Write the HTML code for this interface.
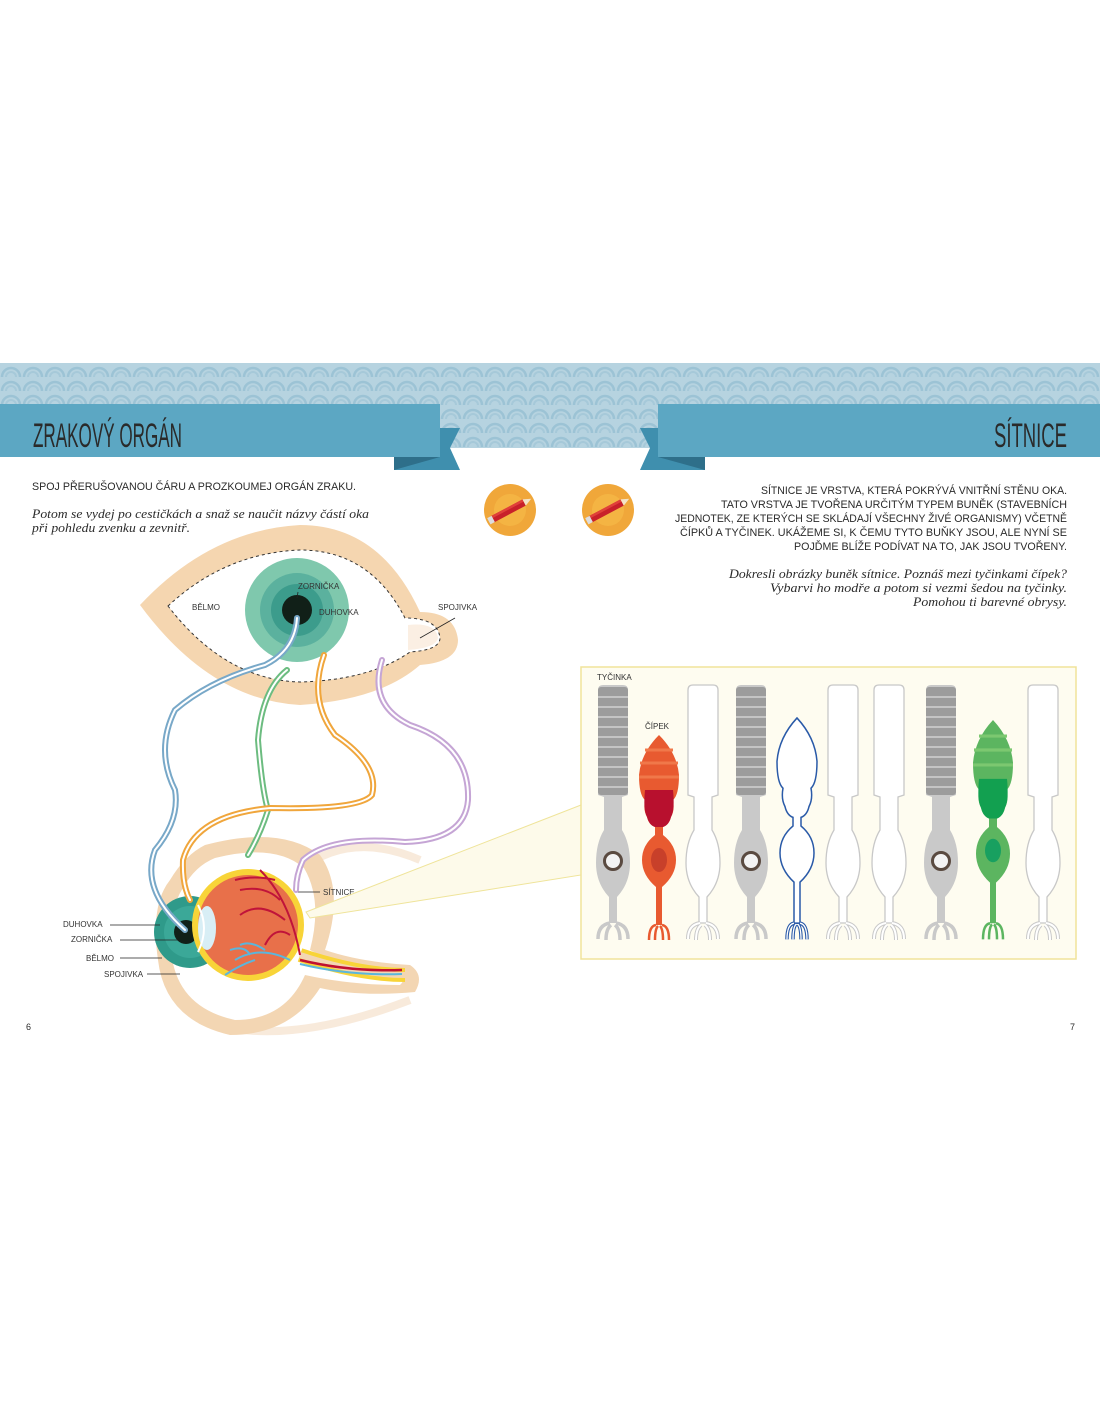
<!DOCTYPE html>
<html><head><meta charset="utf-8"><style>
html,body{margin:0;padding:0;background:#fff;}
svg{display:block;}
text{font-family:"Liberation Sans",sans-serif;fill:#2a2a2a;}
.it{font-family:"Liberation Serif",serif;font-style:italic;}
.lb{font-size:8px;fill:#333;}
</style></head><body>
<svg width="1100" height="1422" viewBox="0 0 1100 1422" xmlns="http://www.w3.org/2000/svg">
<defs>
<pattern id="arc" x="0" y="363" width="22" height="14" patternUnits="userSpaceOnUse">
<rect width="22" height="14" fill="#b6d3e0"/>
<path d="M2,14 A9,9 0 0 1 20,14" fill="none" stroke="#9cc3d5" stroke-width="2.5"/>
<path d="M6,14 A5,5 0 0 1 16,14" fill="none" stroke="#a6c9d9" stroke-width="2"/>
</pattern>
<path id="rod" d="M-15,5 Q-15,0 -10,0 L10,0 Q15,0 15,5 L15,110 L9,112 L9,145 Q17,158 17,178 Q17,198 4,212 L4,238 L-4,238 L-4,212 Q-17,198 -17,178 Q-17,158 -9,145 L-9,112 L-15,110 Z"/>
<path id="feet" d="M-3,238 Q-15,240 -15,254 M-2,240 Q-7,244 -7,255 M2,240 Q7,244 7,255 M3,238 Q15,240 15,254" fill="none"/>
<path id="cone" d="M0,0 Q18,18 20,40 Q20,60 14,65 Q16,75 12,82 Q10,90 4,92 L4,100 Q17,110 17,125 Q17,140 3,152 L3,190 L-3,190 L-3,152 Q-17,140 -17,125 Q-17,110 -4,100 L-4,92 Q-10,90 -12,82 Q-16,75 -14,65 Q-20,60 -20,40 Q-18,18 0,0 Z"/>
<path id="cfeet" d="M-3,190 Q-10,191 -10,205 M-1,191 Q-4,194 -4,205 M1,191 Q4,194 4,205 M3,190 Q10,191 10,205" fill="none"/>
</defs>

<rect x="0" y="363" width="1100" height="85" fill="url(#arc)"/>
<polygon points="394,428 460,428 450,448 460,470 394,470" fill="#3f8fae"/>
<polygon points="394,457 440,457 394,470" fill="#2e6f8a"/>
<rect x="0" y="404" width="440" height="53" fill="#5ca7c3"/>
<text x="33" y="447" font-family="'Liberation Sans Narrow','Liberation Sans',sans-serif" font-size="34" textLength="149" lengthAdjust="spacingAndGlyphs" fill="#1d1d1d">ZRAKOVÝ ORGÁN</text>
<polygon points="705,428 640,428 650,448 640,470 705,470" fill="#3f8fae"/>
<polygon points="705,457 658,457 705,470" fill="#2e6f8a"/>
<rect x="658" y="404" width="442" height="53" fill="#5ca7c3"/>
<text x="1067" y="447" text-anchor="end" font-family="'Liberation Sans Narrow','Liberation Sans',sans-serif" font-size="34" textLength="73" lengthAdjust="spacingAndGlyphs" fill="#1d1d1d">SÍTNICE</text>

<text x="32" y="490" font-size="11" textLength="324" lengthAdjust="spacingAndGlyphs">SPOJ PŘERUŠOVANOU ČÁRU A PROZKOUMEJ ORGÁN ZRAKU.</text>
<text class="it" x="32" y="518" font-size="12.5" textLength="337" lengthAdjust="spacingAndGlyphs">Potom se vydej po cestičkách a snaž se naučit názvy částí oka</text>
<text class="it" x="32" y="532" font-size="12.5" textLength="158" lengthAdjust="spacingAndGlyphs">při pohledu zvenku a zevnitř.</text>

<g font-size="11" text-anchor="end">
<text x="1067" y="494" textLength="306" lengthAdjust="spacingAndGlyphs">SÍTNICE JE VRSTVA, KTERÁ POKRÝVÁ VNITŘNÍ STĚNU OKA.</text>
<text x="1067" y="508" textLength="346" lengthAdjust="spacingAndGlyphs">TATO VRSTVA JE TVOŘENA URČITÝM TYPEM BUNĚK (STAVEBNÍCH</text>
<text x="1067" y="522" textLength="392" lengthAdjust="spacingAndGlyphs">JEDNOTEK, ZE KTERÝCH SE SKLÁDAJÍ VŠECHNY ŽIVÉ ORGANISMY) VČETNĚ</text>
<text x="1067" y="536" textLength="387" lengthAdjust="spacingAndGlyphs">ČÍPKŮ A TYČINEK. UKÁŽEME SI, K ČEMU TYTO BUŇKY JSOU, ALE NYNÍ SE</text>
<text x="1067" y="550" textLength="273" lengthAdjust="spacingAndGlyphs">POJĎME BLÍŽE PODÍVAT NA TO, JAK JSOU TVOŘENY.</text>
</g>
<g font-size="12.5" text-anchor="end">
<text class="it" x="1067" y="578" textLength="338" lengthAdjust="spacingAndGlyphs">Dokresli obrázky buněk sítnice. Poznáš mezi tyčinkami čípek?</text>
<text class="it" x="1067" y="592" textLength="297" lengthAdjust="spacingAndGlyphs">Vybarvi ho modře a potom si vezmi šedou na tyčinky.</text>
<text class="it" x="1067" y="606" textLength="154" lengthAdjust="spacingAndGlyphs">Pomohou ti barevné obrysy.</text>
</g>

<g>
<circle cx="510" cy="510" r="26" fill="#f0a73a"/><circle cx="510" cy="510" r="16" fill="#f6bd4a" opacity=".6"/>
<g transform="translate(510,510) rotate(-28)"><rect x="-20" y="-3.5" width="36" height="7" fill="#c8202a"/><rect x="-20" y="-3.5" width="36" height="2.5" fill="#e0403a"/><polygon points="16,-3.5 24,0 16,3.5" fill="#f3e3c8"/><rect x="-24" y="-3.5" width="5" height="7" fill="#ddd"/></g>
<circle cx="608" cy="510" r="26" fill="#f0a73a"/><circle cx="608" cy="510" r="16" fill="#f6bd4a" opacity=".6"/>
<g transform="translate(608,510) rotate(-28)"><rect x="-20" y="-3.5" width="36" height="7" fill="#c8202a"/><rect x="-20" y="-3.5" width="36" height="2.5" fill="#e0403a"/><polygon points="16,-3.5 24,0 16,3.5" fill="#f3e3c8"/><rect x="-24" y="-3.5" width="5" height="7" fill="#ddd"/></g>
</g>

<path d="M140,605 Q210,530 300,525 Q380,525 420,612 Q455,612 458,640 Q458,662 420,665 Q380,700 300,705 Q210,700 140,605 Z" fill="#f5d6b0"/>
<path d="M168,606 Q225,553 300,550 Q370,550 405,618 Q438,618 440,638 Q440,650 410,652 Q370,680 300,682 Q225,680 168,606 Z" fill="#fff" stroke="#333" stroke-width="1" stroke-dasharray="3,3"/>
<path d="M408,625 Q436,622 438,638 Q436,648 408,650 Z" fill="#fbefe3"/>
<circle cx="297" cy="610" r="52" fill="#7fc8ad"/>
<circle cx="297" cy="610" r="37" fill="#5bb19e"/>
<circle cx="297" cy="610" r="26" fill="#3c9c8c"/>
<circle cx="297" cy="610" r="15" fill="#112018"/>
<text class="lb" x="192" y="610">BĚLMO</text>
<text class="lb" x="298" y="589">ZORNIČKA</text>
<line x1="298" y1="592" x2="297" y2="598" stroke="#222" stroke-width=".8"/>
<text class="lb" x="319" y="615">DUHOVKA</text>
<text class="lb" x="438" y="610">SPOJIVKA</text>
<line x1="455" y1="618" x2="420" y2="638" stroke="#222" stroke-width=".8"/>

<!-- lower eye -->
<path d="M300,870 Q350,830 420,860" fill="none" stroke="#f6e5d2" stroke-width="8" opacity=".8"/>
<path d="M200,1020 Q280,1050 410,1000" fill="none" stroke="#f6e5d2" stroke-width="8" opacity=".8"/>
<path d="M205,845 Q280,825 320,855 Q345,890 325,950 Q360,962 410,965 Q425,975 415,992 Q360,997 320,988 Q290,1035 230,1035 Q165,1020 158,960 Q150,905 170,880 Q185,855 205,845 Z" fill="#f3d6b3"/>
<path d="M215,858 Q275,843 304,868 Q323,900 310,950 Q350,972 400,972 Q406,980 400,985 Q350,985 305,975 Q285,1020 235,1020 Q180,1008 172,958 Q168,910 183,888 Q195,866 215,858 Z" fill="#fff"/>
<circle cx="190" cy="932" r="36" fill="#2f9a8a"/>
<circle cx="190" cy="932" r="26" fill="#3ba898"/>
<circle cx="186" cy="932" r="12" fill="#112018"/>
<path d="M300,955 Q360,975 405,975" fill="none" stroke="#f8d438" stroke-width="14"/>
<path d="M300,955 Q360,975 405,975" fill="none" stroke="#f3d6b3" stroke-width="6"/>
<circle cx="248" cy="925" r="56" fill="#f8d438"/>
<circle cx="248" cy="925" r="50" fill="#e8704a"/>
<path d="M300,960 Q350,972 402,970" fill="none" stroke="#c01030" stroke-width="2.5"/>
<path d="M300,964 Q350,976 402,974" fill="none" stroke="#5bb6dc" stroke-width="2"/>
<ellipse cx="207" cy="928" rx="9" ry="22" fill="#d8eef5"/>
<path d="M198,905 Q210,928 198,952" fill="none" stroke="#fff" stroke-width="2"/>
<g fill="none" stroke="#c0143a" stroke-width="2">
<path d="M300,955 Q290,900 260,870 M280,900 Q265,885 240,890 M285,920 Q260,900 240,915 M275,880 Q255,875 235,880 M290,935 Q275,925 265,945"/>
</g>
<g fill="none" stroke="#5bb6dc" stroke-width="2">
<path d="M290,960 Q260,945 235,960 M265,950 Q250,940 240,945 M255,960 Q240,965 225,975 M250,955 Q245,945 230,950"/>
</g>
<text class="lb" x="323" y="895">SÍTNICE</text><line x1="296" y1="892" x2="320" y2="892" stroke="#222" stroke-width=".8"/>
<text class="lb" x="63" y="927">DUHOVKA</text><line x1="110" y1="925" x2="160" y2="925" stroke="#222" stroke-width=".8"/>
<text class="lb" x="71" y="942">ZORNIČKA</text><line x1="120" y1="940" x2="178" y2="940" stroke="#222" stroke-width=".8"/>
<text class="lb" x="86" y="961">BĚLMO</text><line x1="120" y1="958" x2="162" y2="958" stroke="#222" stroke-width=".8"/>
<text class="lb" x="104" y="977">SPOJIVKA</text><line x1="147" y1="974" x2="180" y2="974" stroke="#222" stroke-width=".8"/>

<g fill="none" stroke-linecap="round">
<path d="M297,618 Q295,650 265,665 Q210,680 175,710 Q155,750 175,790 Q180,820 155,850 Q140,890 185,930" stroke="#78a8c8" stroke-width="6"/>
<path d="M297,618 Q295,650 265,665 Q210,680 175,710 Q155,750 175,790 Q180,820 155,850 Q140,890 185,930" stroke="#fff" stroke-width="2"/>
<path d="M287,670 Q262,690 258,740 Q262,790 268,810 Q260,835 248,855" stroke="#6cbc80" stroke-width="6"/>
<path d="M287,670 Q262,690 258,740 Q262,790 268,810 Q260,835 248,855" stroke="#fff" stroke-width="2"/>
<path d="M324,655 Q308,700 335,735 Q380,765 372,795 Q360,810 270,808 Q195,815 183,860 Q182,885 190,900" stroke="#f0a63c" stroke-width="6"/>
<path d="M324,655 Q308,700 335,735 Q380,765 372,795 Q360,810 270,808 Q195,815 183,860 Q182,885 190,900" stroke="#fff" stroke-width="2"/>
<path d="M382,660 Q368,705 410,725 Q470,745 468,800 Q465,840 405,842 Q330,835 303,860 Q296,875 296,890" stroke="#c5a5d5" stroke-width="6"/>
<path d="M382,660 Q368,705 410,725 Q470,745 468,800 Q465,840 405,842 Q330,835 303,860 Q296,875 296,890" stroke="#fff" stroke-width="2"/>
</g>

<polygon points="306,912 581,805 581,875 310,918" fill="#fdfaea" stroke="#efe49a" stroke-width="1"/>

<rect x="581" y="667" width="495" height="292" fill="#fefcf0" stroke="#f0e39a" stroke-width="1.5"/>
<text class="lb" x="597" y="680">TYČINKA</text>
<text class="lb" x="645" y="729">ČÍPEK</text>

<g id="grod">
<use href="#rod" x="613" y="685" fill="#c9c9c9"/>
<use href="#feet" x="613" y="685" stroke="#c9c9c9" stroke-width="3.5"/>
<rect x="598" y="687" width="30" height="108" rx="3" fill="#9c9c9c"/>
<g stroke="#c4c4c4" stroke-width="2">
<line x1="598" y1="697" x2="628" y2="697"/><line x1="598" y1="707" x2="628" y2="707"/><line x1="598" y1="717" x2="628" y2="717"/><line x1="598" y1="727" x2="628" y2="727"/><line x1="598" y1="737" x2="628" y2="737"/><line x1="598" y1="747" x2="628" y2="747"/><line x1="598" y1="757" x2="628" y2="757"/><line x1="598" y1="767" x2="628" y2="767"/><line x1="598" y1="777" x2="628" y2="777"/><line x1="598" y1="787" x2="628" y2="787"/>
</g>
<circle cx="613" cy="861" r="8.5" fill="#f3f3f3" stroke="#5a4a40" stroke-width="3"/>
</g>
<use href="#grod" x="138"/>
<use href="#grod" x="328"/>

<g fill="#fff" stroke="#c8c8c8" stroke-width="1.3">
<use href="#rod" x="703" y="685"/><use href="#rod" x="843" y="685"/><use href="#rod" x="889" y="685"/><use href="#rod" x="1043" y="685"/>
</g>
<g stroke="#c8c8c8" stroke-width="4"><use href="#feet" x="703" y="685"/><use href="#feet" x="843" y="685"/><use href="#feet" x="889" y="685"/><use href="#feet" x="1043" y="685"/></g>
<g stroke="#fff" stroke-width="2"><use href="#feet" x="703" y="685"/><use href="#feet" x="843" y="685"/><use href="#feet" x="889" y="685"/><use href="#feet" x="1043" y="685"/></g>

<g transform="translate(659,735)">
<use href="#cone" fill="#e85a30"/>
<path d="M-14,55 L14,55 Q16,75 12,82 Q10,90 4,92 L-4,92 Q-10,90 -12,82 Q-16,75 -14,55Z" fill="#b8102e"/>
<g stroke="#f0784a" stroke-width="3"><line x1="-14" y1="15" x2="14" y2="15"/><line x1="-19" y1="28" x2="19" y2="28"/><line x1="-20" y1="42" x2="20" y2="42"/></g>
<ellipse cx="0" cy="125" rx="8" ry="12" fill="#c8402a"/>
<use href="#cfeet" stroke="#e85a30" stroke-width="2.5"/>
</g>
<g transform="translate(797,718) scale(1,1.08)">
<use href="#cone" fill="#fff" stroke="#2a5aa8" stroke-width="1.5"/>
<use href="#cfeet" stroke="#2a5aa8" stroke-width="3.5"/>
<use href="#cfeet" stroke="#fff" stroke-width="1.3"/>
</g>
<g transform="translate(993,720) scale(1,1.07)">
<use href="#cone" fill="#5cb560"/>
<path d="M-14,55 L14,55 Q16,75 12,82 Q10,90 4,92 L-4,92 Q-10,90 -12,82 Q-16,75 -14,55Z" fill="#12a050"/>
<g stroke="#7cc870" stroke-width="3"><line x1="-14" y1="15" x2="14" y2="15"/><line x1="-19" y1="28" x2="19" y2="28"/><line x1="-20" y1="42" x2="20" y2="42"/></g>
<ellipse cx="0" cy="122" rx="8" ry="11" fill="#18a060"/>
<use href="#cfeet" stroke="#5cb560" stroke-width="2.5"/>
</g>

<text x="26" y="1030" font-size="9" fill="#555">6</text>
<text x="1070" y="1030" font-size="9" fill="#555">7</text>
</svg>
</body></html>
